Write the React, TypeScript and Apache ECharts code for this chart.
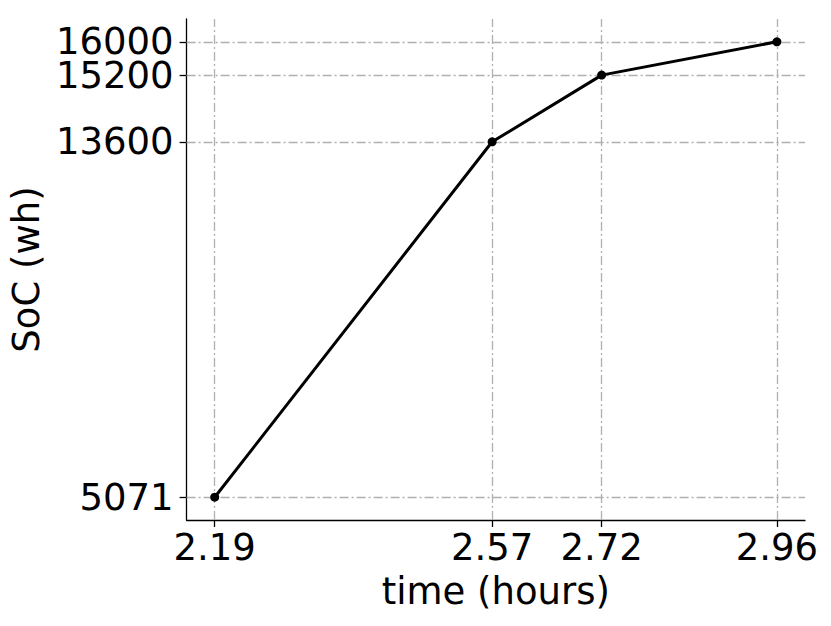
import React, { useEffect, useRef } from "react";
import * as echarts from "echarts";

const timeHours = [2.19, 2.57, 2.72, 2.96];
const socWh = [5071, 13600, 15200, 16000];
const xTicks = [2.19, 2.57, 2.72, 2.96];
const yTicks = [5071, 13600, 15200, 16000];

const FONT = "DejaVu Sans";
const FS = 37;

export default function App() {
  const ref = useRef<HTMLDivElement>(null);
  useEffect(() => {
    if (!ref.current) return;
    const chart = echarts.init(ref.current, undefined, { renderer: "svg" });
    const xSpan = timeHours[timeHours.length - 1] - timeHours[0];
    const ySpan = socWh[socWh.length - 1] - socWh[0];
    const yMin = socWh[0] - ySpan * 0.05;
    const yMax = socWh[socWh.length - 1] + ySpan * 0.05;
    const data = timeHours.map((t, i) => [t, socWh[i]]);
    const gridStyle = { color: "#b0b0b0", width: 1.3, type: [9, 3, 2, 3] as any };
    // split tick labels over two overlaid axes so close labels are not auto-hidden
    const yTicksA = yTicks.filter((_, i) => i % 2 === 0);
    const yTicksB = yTicks.filter((_, i) => i % 2 === 1);
    const yLabel = {
      formatter: (v: number) => String(Math.round(v)),
      fontFamily: FONT,
      fontSize: FS,
      lineHeight: 30,
      color: "#000",
      margin: 13,
      hideOverlap: false,
    };
    chart.setOption({
      animation: false,
      backgroundColor: "#ffffff",
      grid: { left: 186, top: 19, right: 26, bottom: 106, containLabel: false },
      xAxis: {
        type: "value",
        min: timeHours[0] - xSpan * 0.05,
        max: timeHours[timeHours.length - 1] + xSpan * 0.05,
        name: "time (hours)",
        nameLocation: "middle",
        nameGap: 53,
        nameTextStyle: { fontFamily: FONT, fontSize: FS, color: "#000" },
        axisLine: { show: true, lineStyle: { color: "#000", width: 1.3 } },
        axisTick: { show: true, length: 7, customValues: xTicks, lineStyle: { color: "#000", width: 1.3 } },
        axisLabel: {
          customValues: xTicks,
          formatter: (v: number) => v.toFixed(2),
          fontFamily: FONT,
          fontSize: FS,
          color: "#000",
          margin: 9,
          hideOverlap: false,
        },
        splitLine: { show: false },
      },
      yAxis: [
        {
          type: "value",
          min: yMin,
          max: yMax,
          position: "left",
          name: "SoC (wh)",
          nameLocation: "middle",
          nameGap: 130,
          nameTextStyle: { fontFamily: FONT, fontSize: FS, color: "#000" },
          axisLine: { show: true, lineStyle: { color: "#000", width: 1.3 } },
          axisTick: { show: true, length: 7, customValues: yTicksA, lineStyle: { color: "#000", width: 1.3 } },
          axisLabel: { ...yLabel, customValues: yTicksA },
          splitLine: { show: false },
        },
        {
          type: "value",
          min: yMin,
          max: yMax,
          position: "left",
          offset: 0,
          axisLine: { show: false },
          axisTick: { show: true, length: 7, customValues: yTicksB, lineStyle: { color: "#000", width: 1.3 } },
          axisLabel: { ...yLabel, customValues: yTicksB },
          splitLine: { show: false },
        },
      ],
      series: [
        {
          type: "line",
          data,
          z: 1,
          showSymbol: false,
          lineStyle: { opacity: 0 },
          silent: true,
          markLine: {
            silent: true,
            symbol: "none",
            z: 1,
            label: { show: false },
            lineStyle: gridStyle,
            data: [
              ...xTicks.map((v) => ({ xAxis: v })),
              ...yTicks.map((v) => ({ yAxis: v })),
            ],
          },
        },
        {
          type: "line",
          data,
          z: 5,
          symbol: "circle",
          symbolSize: 9,
          showSymbol: true,
          itemStyle: { color: "#000" },
          lineStyle: { color: "#000", width: 3 },
        },
      ],
    });
    return () => chart.dispose();
  }, []);
  return <div ref={ref} style={{ width: 831, height: 626, position: "absolute", left: 0, top: 0 }} />;
}
